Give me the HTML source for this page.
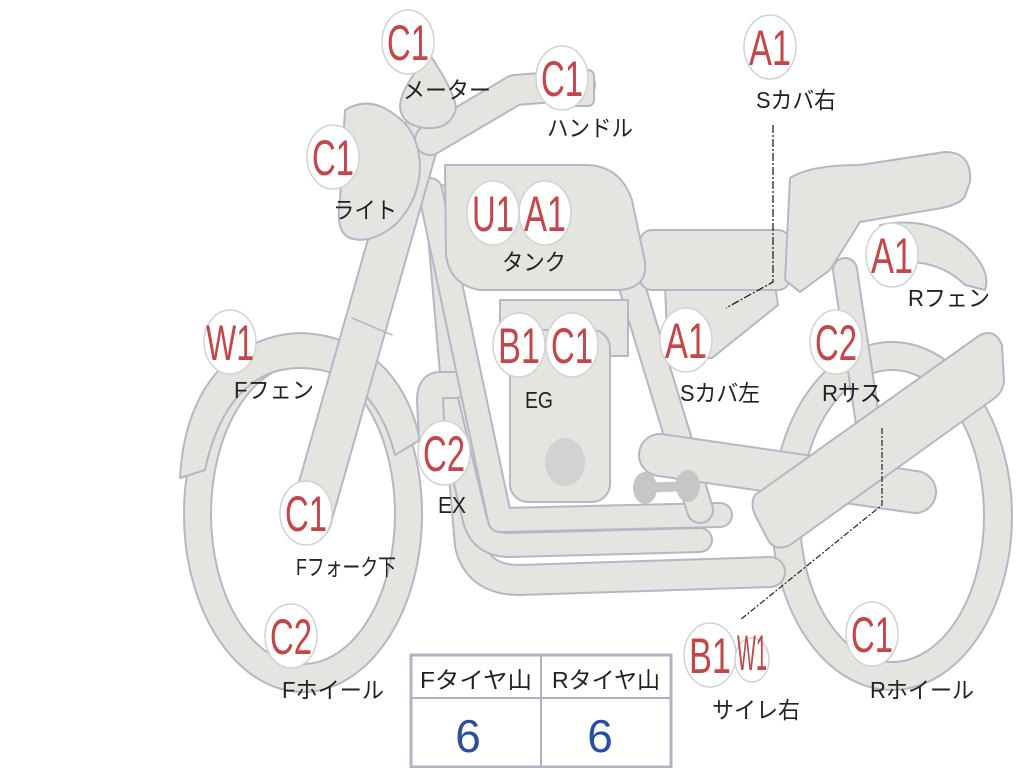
<!DOCTYPE html>
<html><head><meta charset="utf-8"><style>
html,body{margin:0;padding:0;background:#fff;}
svg{display:block;}
.g{fill:#e4e4e1;stroke:#b3b8c4;stroke-width:2;stroke-linejoin:round;}
.w{fill:#fff;stroke:#b3b8c4;stroke-width:2;}
.ob{fill:none;stroke:#b3b8c4;stroke-linecap:round;stroke-linejoin:round;}
.ib{fill:none;stroke:#e4e4e1;stroke-linecap:round;stroke-linejoin:round;}
.bd{fill:#fff;stroke:#d2d2d2;stroke-width:1.5;}
.bt{fill:#c2474a;font-family:"Liberation Sans",sans-serif;font-size:50px;}
.lb{fill:#222;font-family:"Liberation Sans","Noto Sans CJK JP",sans-serif;font-size:23px;}
</style></head><body>
<svg width="1024" height="768" viewBox="0 0 1024 768" xmlns="http://www.w3.org/2000/svg">
<ellipse class="g" cx="303" cy="514" rx="119" ry="178"/>
<ellipse class="w" cx="303" cy="514" rx="92" ry="150"/>
<path class="g" d="M180,478 C185,380 240,335 300,333 C360,335 405,370 420,440 L395,455 C380,395 345,368 300,368 C255,368 220,400 205,470 Z"/>
<ellipse class="g" cx="892" cy="516" rx="120" ry="174"/>
<ellipse class="w" cx="892" cy="516" rx="92" ry="146"/>
<path class="ob" stroke-width="32" d="M440,200 L470,545 Q478,580 520,580 L770,572"/>
<path class="ib" stroke-width="28" d="M440,200 L470,545 Q478,580 520,580 L770,572"/>
<path class="ob" stroke-width="26" d="M445,395 L475,520 Q482,545 510,545 L700,540"/>
<path class="ib" stroke-width="22" d="M445,395 L475,520 Q482,545 510,545 L700,540"/>
<path class="ob" stroke-width="28" d="M455,385 L440,385 Q430,385 430,400 L432,440"/>
<path class="ib" stroke-width="24" d="M455,385 L440,385 Q430,385 430,400 L432,440"/>
<path class="ob" stroke-width="26" d="M430,190 L500,520 L720,515"/>
<path class="ib" stroke-width="22" d="M430,190 L500,520 L720,515"/>
<path class="ob" stroke-width="28" d="M630,280 L700,510"/>
<path class="ib" stroke-width="24" d="M630,280 L700,510"/>
<path class="ob" stroke-width="44" d="M660,455 L915,492"/>
<path class="ib" stroke-width="40" d="M660,455 L915,492"/>
<path class="ob" stroke-width="26" d="M845,270 L872,450"/>
<path class="ib" stroke-width="22" d="M845,270 L872,450"/>
<rect class="g" x="500" y="300" width="128" height="56"/>
<rect class="g" x="510" y="330" width="100" height="172" rx="18"/>
<ellipse cx="565" cy="462" rx="20" ry="24" fill="#d2d2d2"/>
<path d="M640,488 L690,486" stroke="#c6c6c6" stroke-width="10"/>
<ellipse cx="645" cy="488" rx="12" ry="16" fill="#c6c6c6"/>
<ellipse cx="688" cy="486" rx="12" ry="16" fill="#c6c6c6"/>
<path class="g" d="M665,285 L775,285 L778,305 L712,358 L668,360 Z"/>
<rect class="g" x="640" y="230" width="150" height="60" rx="12"/>
<path class="g" d="M790,178 Q810,165 860,165 L945,152 Q972,152 970,182 L965,196 Q960,206 930,210 L860,222 L830,270 L800,292 L785,280 Z"/>
<path class="g" d="M880,225 Q930,215 965,245 Q992,270 985,290 L965,285 Q940,260 900,262 Z"/>
<path class="g" d="M755,495 L980,335 Q995,328 1002,345 L1004,380 Q1004,392 992,400 L790,545 Q775,552 768,540 L755,515 Q750,503 755,495 Z"/>
<path class="g" d="M445,165 L585,165 Q620,165 632,200 L645,262 Q648,290 615,290 L480,290 Q450,285 446,255 Z"/>
<path class="ob" stroke-width="44" d="M418,140 L310,520"/>
<path class="ib" stroke-width="40" d="M418,140 L310,520"/>
<path class="ob" stroke-width="1.5" d="M352,318 L392,335"/>
<path class="ob" stroke-width="32" d="M430,140 L515,90 L580,85"/>
<path class="ib" stroke-width="28" d="M430,140 L515,90 L580,85"/>
<rect class="g" x="560" y="70" width="34" height="36" rx="6"/>
<path class="g" d="M430,55 Q460,100 455,112 Q448,130 425,128 Q400,125 400,105 Q402,85 430,55 Z"/>
<path class="g" d="M345,110 Q370,95 395,115 Q418,130 420,165 Q420,200 395,225 Q370,245 350,238 Q335,232 340,200 Z"/>
<path d="M773,125 L773,282 L726,308" fill="none" stroke="#222" stroke-width="1.3" stroke-dasharray="8 2 2 2"/>
<path d="M882,428 L882,505 L740,620" fill="none" stroke="#222" stroke-width="1.2" stroke-dasharray="6 2 2 2"/>
<rect x="411" y="655" width="260" height="112" fill="#fff" stroke="#aeb4c0" stroke-width="3"/>
<line x1="411" y1="698" x2="671" y2="698" stroke="#aeb4c0" stroke-width="2"/>
<line x1="541" y1="655" x2="541" y2="767" stroke="#aeb4c0" stroke-width="2"/>
<text class="lb" x="420" y="688" font-size="25" textLength="112" lengthAdjust="spacingAndGlyphs">Fタイヤ山</text>
<text class="lb" x="552" y="688" font-size="25" textLength="108" lengthAdjust="spacingAndGlyphs">Rタイヤ山</text>
<text x="468" y="752" fill="#2a4fa0" font-family="Liberation Sans,sans-serif" font-size="46" text-anchor="middle">6</text>
<text x="600" y="752" fill="#2a4fa0" font-family="Liberation Sans,sans-serif" font-size="46" text-anchor="middle">6</text>
<g>
<ellipse class="bd" cx="408" cy="42" rx="26" ry="32"/><text class="bt" x="387" y="60" textLength="42" lengthAdjust="spacingAndGlyphs">C1</text>
<ellipse class="bd" cx="562" cy="78" rx="26" ry="32"/><text class="bt" x="541" y="96" textLength="42" lengthAdjust="spacingAndGlyphs">C1</text>
<ellipse class="bd" cx="333" cy="157" rx="26" ry="32"/><text class="bt" x="312" y="175" textLength="42" lengthAdjust="spacingAndGlyphs">C1</text>
<ellipse class="bd" cx="493" cy="213" rx="26" ry="32"/><text class="bt" x="472" y="231" textLength="42" lengthAdjust="spacingAndGlyphs">U1</text>
<ellipse class="bd" cx="545" cy="213" rx="26" ry="32"/><text class="bt" x="524" y="231" textLength="42" lengthAdjust="spacingAndGlyphs">A1</text>
<ellipse class="bd" cx="770" cy="47" rx="26" ry="32"/><text class="bt" x="749" y="65" textLength="42" lengthAdjust="spacingAndGlyphs">A1</text>
<ellipse class="bd" cx="892" cy="255" rx="26" ry="32"/><text class="bt" x="871" y="273" textLength="42" lengthAdjust="spacingAndGlyphs">A1</text>
<ellipse class="bd" cx="230" cy="342" rx="26" ry="32"/><text class="bt" x="206" y="360" textLength="48" lengthAdjust="spacingAndGlyphs">W1</text>
<ellipse class="bd" cx="519" cy="345" rx="26" ry="32"/><text class="bt" x="498" y="363" textLength="42" lengthAdjust="spacingAndGlyphs">B1</text>
<ellipse class="bd" cx="572" cy="345" rx="26" ry="32"/><text class="bt" x="551" y="363" textLength="42" lengthAdjust="spacingAndGlyphs">C1</text>
<ellipse class="bd" cx="686" cy="340" rx="26" ry="32"/><text class="bt" x="665" y="358" textLength="42" lengthAdjust="spacingAndGlyphs">A1</text>
<ellipse class="bd" cx="836" cy="342" rx="26" ry="32"/><text class="bt" x="815" y="360" textLength="42" lengthAdjust="spacingAndGlyphs">C2</text>
<ellipse class="bd" cx="444" cy="453" rx="26" ry="32"/><text class="bt" x="423" y="471" textLength="42" lengthAdjust="spacingAndGlyphs">C2</text>
<ellipse class="bd" cx="306" cy="513" rx="26" ry="32"/><text class="bt" x="285" y="531" textLength="42" lengthAdjust="spacingAndGlyphs">C1</text>
<ellipse class="bd" cx="291" cy="636" rx="26" ry="32"/><text class="bt" x="270" y="654" textLength="42" lengthAdjust="spacingAndGlyphs">C2</text>
<ellipse class="bd" cx="710" cy="655" rx="26" ry="32"/><text class="bt" x="689" y="673" textLength="42" lengthAdjust="spacingAndGlyphs">B1</text>
<ellipse class="bd" cx="752" cy="660" rx="17" ry="22"/><text class="bt" x="737" y="670" font-size="28" textLength="30" lengthAdjust="spacingAndGlyphs">W1</text>
<ellipse class="bd" cx="872" cy="634" rx="26" ry="32"/><text class="bt" x="851" y="652" textLength="42" lengthAdjust="spacingAndGlyphs">C1</text>
</g>
<text class="lb" x="403" y="98" textLength="88" lengthAdjust="spacingAndGlyphs">メーター</text>
<text class="lb" x="547" y="136" textLength="86" lengthAdjust="spacingAndGlyphs">ハンドル</text>
<text class="lb" x="333" y="218" textLength="64" lengthAdjust="spacingAndGlyphs">ライト</text>
<text class="lb" x="502" y="270" textLength="64" lengthAdjust="spacingAndGlyphs">タンク</text>
<text class="lb" x="756" y="108" textLength="80" lengthAdjust="spacingAndGlyphs">Sカバ右</text>
<text class="lb" x="908" y="306" textLength="82" lengthAdjust="spacingAndGlyphs">Rフェン</text>
<text class="lb" x="234" y="398" textLength="80" lengthAdjust="spacingAndGlyphs">Fフェン</text>
<text class="lb" x="525" y="408" textLength="28" lengthAdjust="spacingAndGlyphs">EG</text>
<text class="lb" x="680" y="401" textLength="80" lengthAdjust="spacingAndGlyphs">Sカバ左</text>
<text class="lb" x="822" y="401" textLength="60" lengthAdjust="spacingAndGlyphs">Rサス</text>
<text class="lb" x="438" y="513" textLength="28" lengthAdjust="spacingAndGlyphs">EX</text>
<text class="lb" x="296" y="575" textLength="100" lengthAdjust="spacingAndGlyphs">Fフォーク下</text>
<text class="lb" x="282" y="698" textLength="102" lengthAdjust="spacingAndGlyphs">Fホイール</text>
<text class="lb" x="712" y="718" textLength="88" lengthAdjust="spacingAndGlyphs">サイレ右</text>
<text class="lb" x="870" y="698" textLength="104" lengthAdjust="spacingAndGlyphs">Rホイール</text>
</svg>
</body></html>
